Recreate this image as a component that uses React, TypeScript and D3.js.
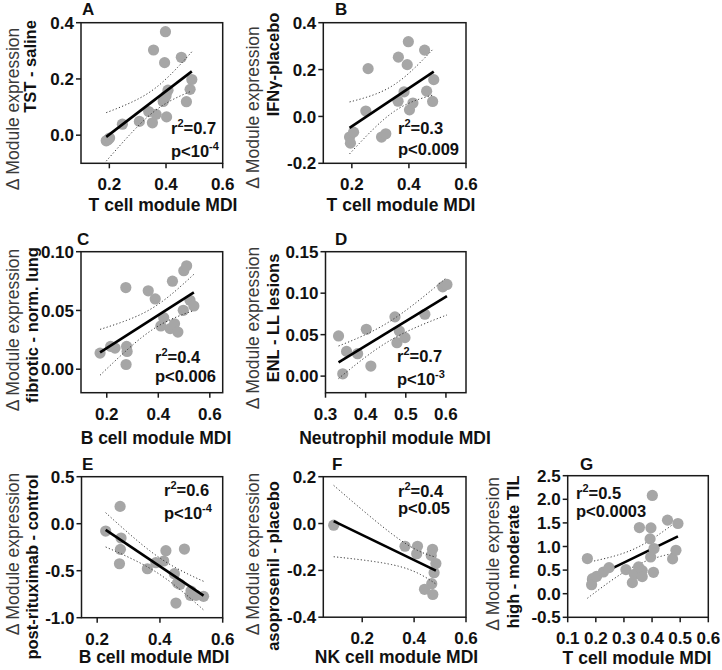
import React from "react";
import * as d3 from "d3";

// ---- data ----
const aX = [0.189, 0.195, 0.201, 0.246, 0.306, 0.339, 0.352, 0.365, 0.356, 0.395, 0.398, 0.390, 0.395, 0.400, 0.407, 0.402, 0.454, 0.472, 0.485, 0.491];
const aY = [-0.020, -0.016, -0.010, 0.039, 0.049, 0.084, 0.044, 0.074, 0.303, 0.258, 0.368, 0.120, 0.130, 0.140, 0.160, 0.065, 0.277, 0.119, 0.163, 0.198];

const bX = [0.192, 0.195, 0.206, 0.257, 0.249, 0.304, 0.319, 0.363, 0.362, 0.383, 0.394, 0.398, 0.402, 0.414, 0.455, 0.462, 0.483, 0.487];
const bY = [-0.088, -0.114, -0.067, 0.204, 0.023, -0.088, -0.074, 0.253, 0.065, 0.105, 0.221, 0.319, 0.028, 0.057, 0.283, 0.108, 0.064, 0.157];

const cX = [0.174, 0.215, 0.232, 0.274, 0.277, 0.279, 0.275, 0.361, 0.388, 0.410, 0.421, 0.455, 0.446, 0.463, 0.476, 0.497, 0.499, 0.510, 0.523, 0.538];
const cY = [0.0137, 0.0194, 0.018, 0.0695, 0.0194, 0.0151, 0.004, 0.0667, 0.0598, 0.0368, 0.0439, 0.0749, 0.0345, 0.0387, 0.0316, 0.0501, 0.0838, 0.088, 0.0587, 0.0538];

const dX = [0.3325, 0.343, 0.3525, 0.380, 0.4017, 0.413, 0.473, 0.478, 0.484, 0.498, 0.5475, 0.592, 0.6025];
const dY = [0.0484, 0.0028, 0.0298, 0.027, 0.0565, 0.0121, 0.0714, 0.0403, 0.0544, 0.0464, 0.0746, 0.1077, 0.1105];

const eX = [0.227, 0.273, 0.276, 0.274, 0.271, 0.360, 0.387, 0.412, 0.419, 0.478, 0.446, 0.456, 0.464, 0.451, 0.499, 0.497, 0.515, 0.539];
const eY = [-0.078, 0.184, -0.152, -0.273, -0.426, -0.479, -0.415, -0.397, -0.287, -0.270, -0.532, -0.631, -0.645, -0.844, -0.716, -0.762, -0.762, -0.773];

const fX = [0.090, 0.365, 0.413, 0.410, 0.471, 0.466, 0.484, 0.477, 0.468, 0.440, 0.472];
const fY = [-0.007, -0.097, -0.097, -0.129, -0.110, -0.136, -0.171, -0.21, -0.257, -0.281, -0.303];

const gX = [0.170, 0.188, 0.185, 0.203, 0.227, 0.247, 0.307, 0.330, 0.337, 0.352, 0.355, 0.365, 0.365, 0.396, 0.393, 0.401, 0.395, 0.407, 0.405, 0.455, 0.473, 0.485, 0.492];
const gY = [0.744, 0.319, 0.191, 0.368, 0.460, 0.552, 0.510, 0.234, 0.411, 0.567, 1.402, 0.489, 0.361, 1.395, 1.161, 2.082, 0.779, 0.956, 0.453, 1.558, 0.737, 0.921, 1.487];

const panelLetters = ["A", "B", "C", "D", "E", "F", "G"];
const yTitleTop = ["Δ Module expression", "Δ Module expression", "Δ Module expression", "Δ Module expression", "Δ Module expression", "Δ Module expression", "Δ Module expresion"];
const yTitleBottom = ["TST - saline", "IFNγ-placebo", "fibrotic - norm. lung", "ENL - LL lesions", "post-rituximab - control", "asoprosenil - placebo", "high - moderate TIL"];
const xTitles = ["T cell module MDI", "T cell module MDI", "B cell module MDI", "Neutrophil module MDI", "B cell module MDI", "NK cell module MDI", "T cell module MDI"];
const r2Labels = ["0.7", "0.3", "0.4", "0.7", "0.6", "0.4", "0.5"];
// p label: [text, superscript]
const pLabels: [string, string][] = [["p<10", "-4"], ["p<0.009", ""], ["p<0.006", ""], ["p<10", "-3"], ["p<10", "-4"], ["p<0.05", ""], ["p<0.0003", ""]];

const xDomains = [[0.1, 0.6], [0.1, 0.6], [0.1, 0.65], [0.3, 0.65], [0.15, 0.6], [0.05, 0.6], [0.1, 0.6]];
const yDomains = [[-0.1, 0.4], [-0.2, 0.4], [-0.02, 0.10], [-0.02, 0.15], [-1.0, 0.5], [-0.4, 0.2], [-0.5, 2.5]];
const xTickVals = [[0.2, 0.4, 0.6], [0.2, 0.4, 0.6], [0.2, 0.4, 0.6], [0.3, 0.4, 0.5, 0.6], [0.2, 0.4, 0.6], [0.2, 0.4, 0.6], [0.1, 0.2, 0.3, 0.4, 0.5, 0.6]];
const yTickVals = [[0, 0.2, 0.4], [-0.2, 0, 0.2, 0.4], [0, 0.05, 0.10], [0, 0.05, 0.10, 0.15], [-1.0, -0.5, 0, 0.5], [-0.4, -0.2, 0, 0.2], [-0.5, 0, 0.5, 1.0, 1.5, 2.0, 2.5]];
const yDecimals = [1, 1, 2, 2, 1, 1, 1];

const xs = [aX, bX, cX, dX, eX, fX, gX];
const ys = [aY, bY, cY, dY, eY, fY, gY];

// ---- layout ----
const boxes = [
  { x0: 81, x1: 222.7, y0: 22.7, y1: 163.3 },
  { x0: 323.3, x1: 466, y0: 22.7, y1: 163.3 },
  { x0: 81, x1: 222.7, y0: 251.7, y1: 392.7 },
  { x0: 325.5, x1: 466, y0: 251.7, y1: 392.7 },
  { x0: 81.5, x1: 222.7, y0: 476.7, y1: 617.7 },
  { x0: 323.3, x1: 466, y0: 476.7, y1: 617.2 },
  { x0: 567.7, x1: 708.3, y0: 475.7, y1: 617.3 },
];
const letterPos = [[82, 15], [335, 15], [77, 245], [335, 245], [82, 470], [332, 470], [580, 470]];
const yT1Pos = [[12.7, 109], [252.7, 107.5], [12.7, 330], [252.7, 328], [13, 554], [252.7, 554], [492.7, 554]];
const yT2Pos = [[30, 66.5], [273, 64.5], [32, 325], [273, 318], [32, 567], [273, 566], [513, 552]];
const xTitlePos = [[163, 211], [401, 211], [156, 444], [395, 444], [154, 663], [396.5, 663], [637, 664]];
const statPos = [[171, 134, 157], [398, 134, 155], [155, 362.7, 382.3], [397, 362, 385], [164, 495.7, 519], [398, 497, 514], [576, 499, 517]];
const lineOnTop = [true, true, true, true, true, true, false];

const FONT = "'Liberation Sans', Arial, Helvetica, sans-serif";
const TICK_FS = 17;

function tCrit(df: number) {
  const z = 1.959964;
  return z + (z ** 3 + z) / (4 * df) + (5 * z ** 5 + 16 * z ** 3 + 3 * z) / (96 * df * df) +
    (3 * z ** 7 + 19 * z ** 5 + 17 * z ** 3 - 15 * z) / (384 * df ** 3);
}

function fit(x: number[], y: number[]) {
  const n = x.length;
  const mx = d3.mean(x)!;
  const my = d3.mean(y)!;
  let sxx = 0, sxy = 0;
  for (let i = 0; i < n; i++) { sxx += (x[i] - mx) ** 2; sxy += (x[i] - mx) * (y[i] - my); }
  const b = sxy / sxx;
  const a = my - b * mx;
  let sse = 0;
  for (let i = 0; i < n; i++) sse += (y[i] - (a + b * x[i])) ** 2;
  const s = Math.sqrt(sse / (n - 2));
  return { a, b, s, mx, sxx, n, t: tCrit(n - 2) };
}

function Panel({ i }: { i: number }) {
  const box = boxes[i];
  const x = d3.scaleLinear().domain(xDomains[i]).range([box.x0, box.x1]);
  const y = d3.scaleLinear().domain(yDomains[i]).range([box.y1, box.y0]);
  const X = xs[i], Y = ys[i];
  const f = fit(X, Y);
  const [xmin, xmax] = d3.extent(X) as [number, number];
  const grid = d3.range(0, 61).map((k) => xmin + (xmax - xmin) * k / 60);
  const half = (v: number) => f.t * f.s * Math.sqrt(1 / f.n + (v - f.mx) ** 2 / f.sxx);
  const upper = d3.line<number>().x((v) => x(v)).y((v) => y(f.a + f.b * v + half(v)))(grid)!;
  const lower = d3.line<number>().x((v) => x(v)).y((v) => y(f.a + f.b * v - half(v)))(grid)!;
  const fitPath = d3.line<number>().x((v) => x(v)).y((v) => y(f.a + f.b * v))([xmin, xmax])!;

  const fitEls = (
    <g>
      <path d={upper} fill="none" stroke="#333" strokeWidth={1} strokeDasharray="1.2,2.2" />
      <path d={lower} fill="none" stroke="#333" strokeWidth={1} strokeDasharray="1.2,2.2" />
      <path d={fitPath} fill="none" stroke="#000" strokeWidth={2.6} />
    </g>
  );
  const dots = (
    <g>
      {X.map((v, k) => (
        <circle key={k} cx={x(v)} cy={y(Y[k])} r={5.6} fill="#a6a6a6" />
      ))}
    </g>
  );
  const [sx, sy1, sy2] = statPos[i];
  const [p, pSup] = pLabels[i];
  return (
    <g fontFamily={FONT}>
      {lineOnTop[i] ? dots : fitEls}
      {lineOnTop[i] ? fitEls : dots}
      <rect x={box.x0} y={box.y0} width={box.x1 - box.x0} height={box.y1 - box.y0} fill="none" stroke="#1a1a1a" strokeWidth={1.5} />
      {xTickVals[i].map((v) => (
        <g key={"x" + v}>
          <line x1={x(v)} x2={x(v)} y1={box.y1} y2={box.y1 + 5} stroke="#1a1a1a" strokeWidth={1.5} />
          <text x={x(v)} y={box.y1 + 27} textAnchor="middle" fontSize={TICK_FS} fontWeight="bold" fill="#111">{v.toFixed(1)}</text>
        </g>
      ))}
      {yTickVals[i].map((v) => (
        <g key={"y" + v}>
          <line x1={box.x0 - 5} x2={box.x0} y1={y(v)} y2={y(v)} stroke="#1a1a1a" strokeWidth={1.5} />
          <text x={box.x0 - 7} y={y(v)} dy="0.36em" textAnchor="end" fontSize={TICK_FS} fontWeight="bold" fill="#111">{v.toFixed(yDecimals[i])}</text>
        </g>
      ))}
      <text x={letterPos[i][0]} y={letterPos[i][1]} fontSize={17} fontWeight="bold" fill="#111">{panelLetters[i]}</text>
      <text transform={`translate(${yT1Pos[i][0]},${yT1Pos[i][1]}) rotate(-90)`} dy="0.35em" textAnchor="middle" fontSize={17.5} fill="#3a3a3a">{yTitleTop[i]}</text>
      <text transform={`translate(${yT2Pos[i][0]},${yT2Pos[i][1]}) rotate(-90)`} dy="0.35em" textAnchor="middle" fontSize={16.5} fontWeight="bold" fill="#111">{yTitleBottom[i]}</text>
      <text x={xTitlePos[i][0]} y={xTitlePos[i][1]} textAnchor="middle" fontSize={17.5} fontWeight="bold" fill="#111">{xTitles[i]}</text>
      <text x={sx} y={sy1} fontSize={16.5} fontWeight="bold" fill="#111">
        r<tspan dy={-7} fontSize={11}>2</tspan><tspan dy={7}>={r2Labels[i]}</tspan>
      </text>
      <text x={sx} y={sy2} fontSize={16.5} fontWeight="bold" fill="#111">
        {p}
        {pSup ? <tspan dy={-7} fontSize={11}>{pSup}</tspan> : null}
      </text>
    </g>
  );
}

export default function App() {
  return (
    <svg width={722} height={670} style={{ position: "absolute", left: 0, top: 0, background: "#fff" }}>
      <rect width={722} height={670} fill="#fff" />
      {panelLetters.map((_, i) => <Panel key={i} i={i} />)}
    </svg>
  );
}
